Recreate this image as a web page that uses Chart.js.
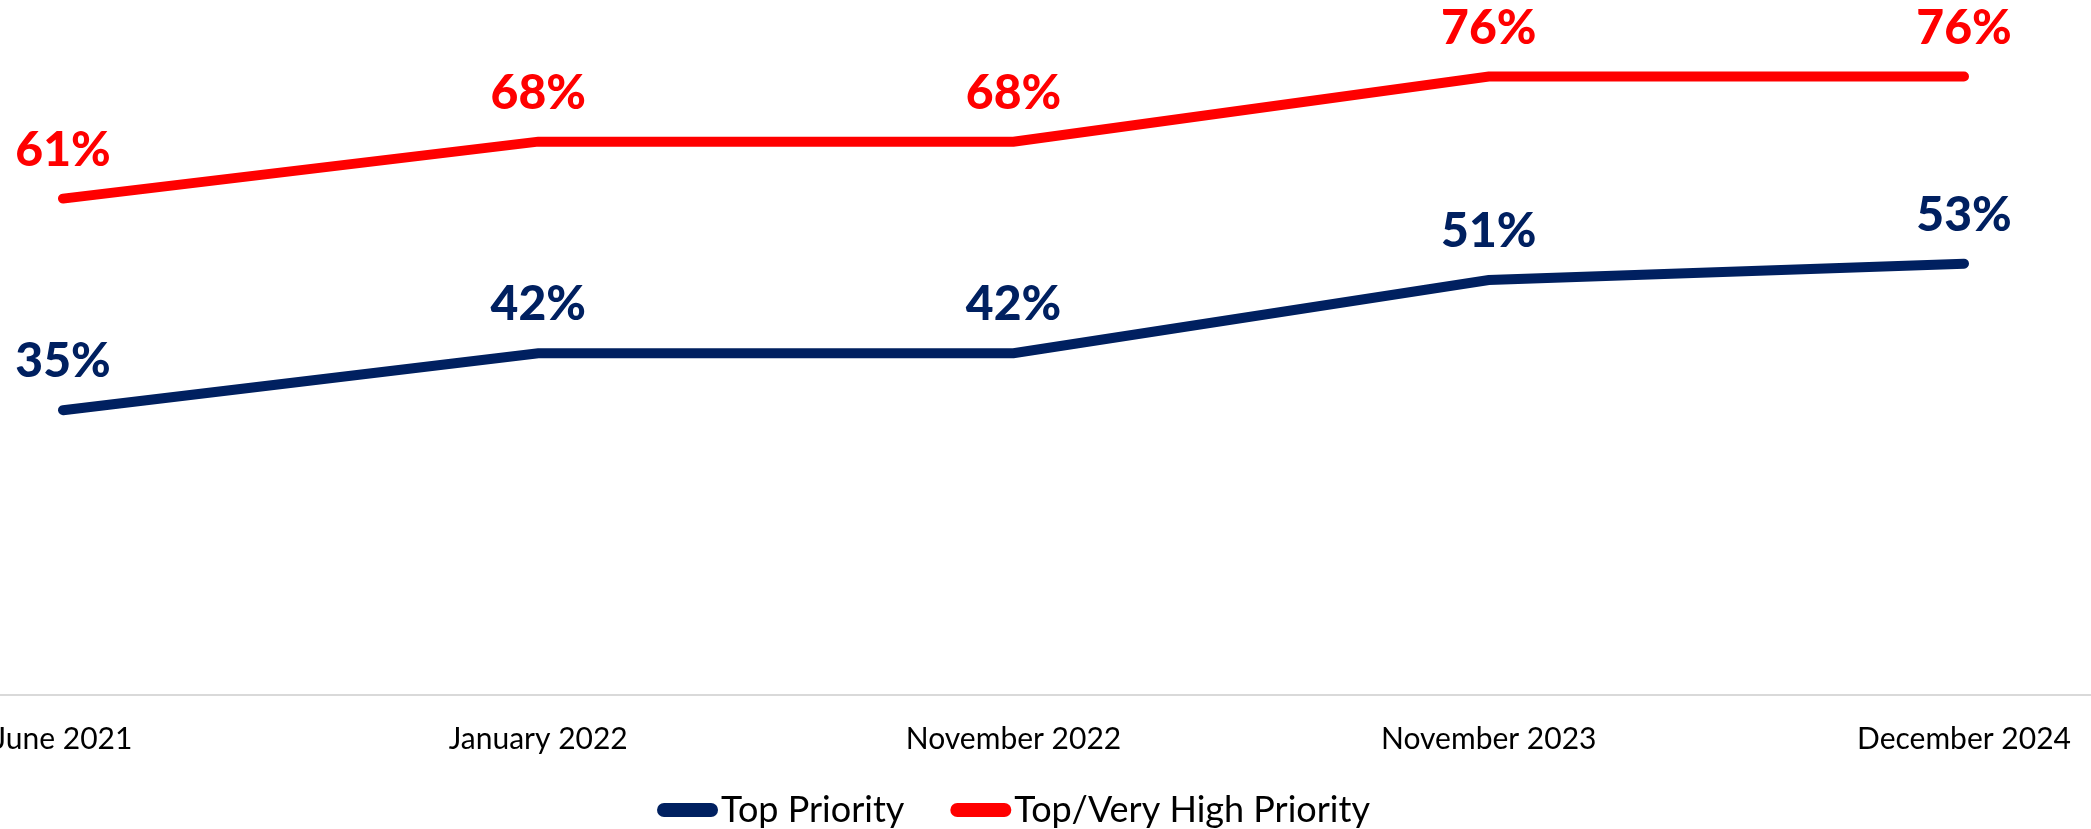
<!DOCTYPE html>
<html>
<head>
<meta charset="utf-8">
<script src="https://cdn.jsdelivr.net/npm/chart.js@4.4.1/dist/chart.umd.min.js"></script>
<style>
  html, body { margin: 0; padding: 0; background: #ffffff; }
  #wrap { width: 2091px; height: 829px; }
</style>
</head>
<body>
<div id="wrap"><canvas id="chart" width="2091" height="829"></canvas></div>
<script>
// Survey waves and the share rating the issue at each priority level (%)
const categories = ['June 2021', 'January 2022', 'November 2022', 'November 2023', 'December 2024'];
const topPriority = [35, 42, 42, 51, 53];
const topVeryHighPriority = [61, 68, 68, 76, 76];
const seriesNames = ['Top Priority', 'Top/Very High Priority'];
const seriesColors = ['#002060', '#FF0000'];

const FONT = 'Lato, "Open Sans", sans-serif';

// Light baseline running the full width of the canvas at the zero line
const baseline = {
  id: 'baseline',
  beforeDatasetsDraw(chart) {
    const ctx = chart.ctx;
    const y = chart.scales.y.getPixelForValue(0);
    ctx.save();
    ctx.strokeStyle = '#d9d9d9';
    ctx.lineWidth = 2;
    ctx.beginPath();
    ctx.moveTo(0, y);
    ctx.lineTo(chart.width, y);
    ctx.stroke();
    ctx.restore();
  }
};

// Bold percentage labels above every point
const valueLabels = {
  id: 'valueLabels',
  afterDatasetsDraw(chart) {
    const ctx = chart.ctx;
    chart.data.datasets.forEach((ds, i) => {
      const meta = chart.getDatasetMeta(i);
      ctx.save();
      ctx.font = '900 48px ' + FONT;
      ctx.fillStyle = ds.borderColor;
      ctx.textAlign = 'center';
      ctx.textBaseline = 'alphabetic';
      meta.data.forEach((pt, j) => {
        ctx.fillText(ds.data[j] + '%', pt.x, pt.y - 33);
      });
      ctx.restore();
    });
  }
};

// Legend row under the axis: rounded swatch followed directly by the series name
const swatchLegend = {
  id: 'swatchLegend',
  afterDraw(chart) {
    const ctx = chart.ctx;
    const area = chart.chartArea;
    const boxW = 61, boxH = 14, gap = 3, itemGap = 46;
    const centerY = 810, textBase = 822;
    ctx.save();
    ctx.font = '36px ' + FONT;
    const items = chart.data.datasets.map(ds => ({
      label: ds.label, color: ds.borderColor, w: ctx.measureText(ds.label).width
    }));
    const total = items.reduce((s, it) => s + boxW + gap + it.w, 0) + itemGap * (items.length - 1);
    let x = (area.left + area.right) / 2 - total / 2;
    items.forEach(it => {
      ctx.fillStyle = it.color;
      ctx.beginPath();
      ctx.roundRect(x, centerY - boxH / 2, boxW, boxH, boxH / 2);
      ctx.fill();
      x += boxW + gap;
      ctx.fillStyle = '#000000';
      ctx.textAlign = 'left';
      ctx.textBaseline = 'alphabetic';
      ctx.fillText(it.label, x, textBase);
      x += it.w + itemGap;
    });
    ctx.restore();
  }
};

function lineDataset(label, data, color) {
  return {
    label: label,
    data: data,
    borderColor: color,
    backgroundColor: color,
    borderWidth: 10,
    borderCapStyle: 'round',
    borderJoinStyle: 'miter',
    pointRadius: 0,
    pointHoverRadius: 0,
    tension: 0,
    fill: false
  };
}

function draw() {
  new Chart(document.getElementById('chart'), {
    type: 'line',
    data: {
      labels: categories,
      datasets: [
        lineDataset(seriesNames[0], topPriority, seriesColors[0]),
        lineDataset(seriesNames[1], topVeryHighPriority, seriesColors[1])
      ]
    },
    options: {
      responsive: false,
      devicePixelRatio: 1,
      animation: false,
      layout: { padding: { top: 44, left: 63, right: 127, bottom: 46 } },
      plugins: {
        legend: { display: false },
        tooltip: { enabled: false }
      },
      scales: {
        x: {
          grid: { display: false, drawTicks: false },
          border: { display: false },
          ticks: {
            autoSkip: false,
            maxRotation: 0,
            padding: 26,
            color: '#000000',
            font: { family: FONT, size: 30 }
          },
          afterFit(scale) { scale.paddingLeft = 0; scale.paddingRight = 0; }
        },
        y: {
          display: false,
          min: 0,
          max: 80
        }
      }
    },
    plugins: [baseline, valueLabels, swatchLegend]
  });
}

if (document.fonts && document.fonts.load) {
  Promise.all([
    document.fonts.load('30px Lato'),
    document.fonts.load('900 48px Lato')
  ]).then(draw, draw);
} else {
  draw();
}
</script>
</body>
</html>
